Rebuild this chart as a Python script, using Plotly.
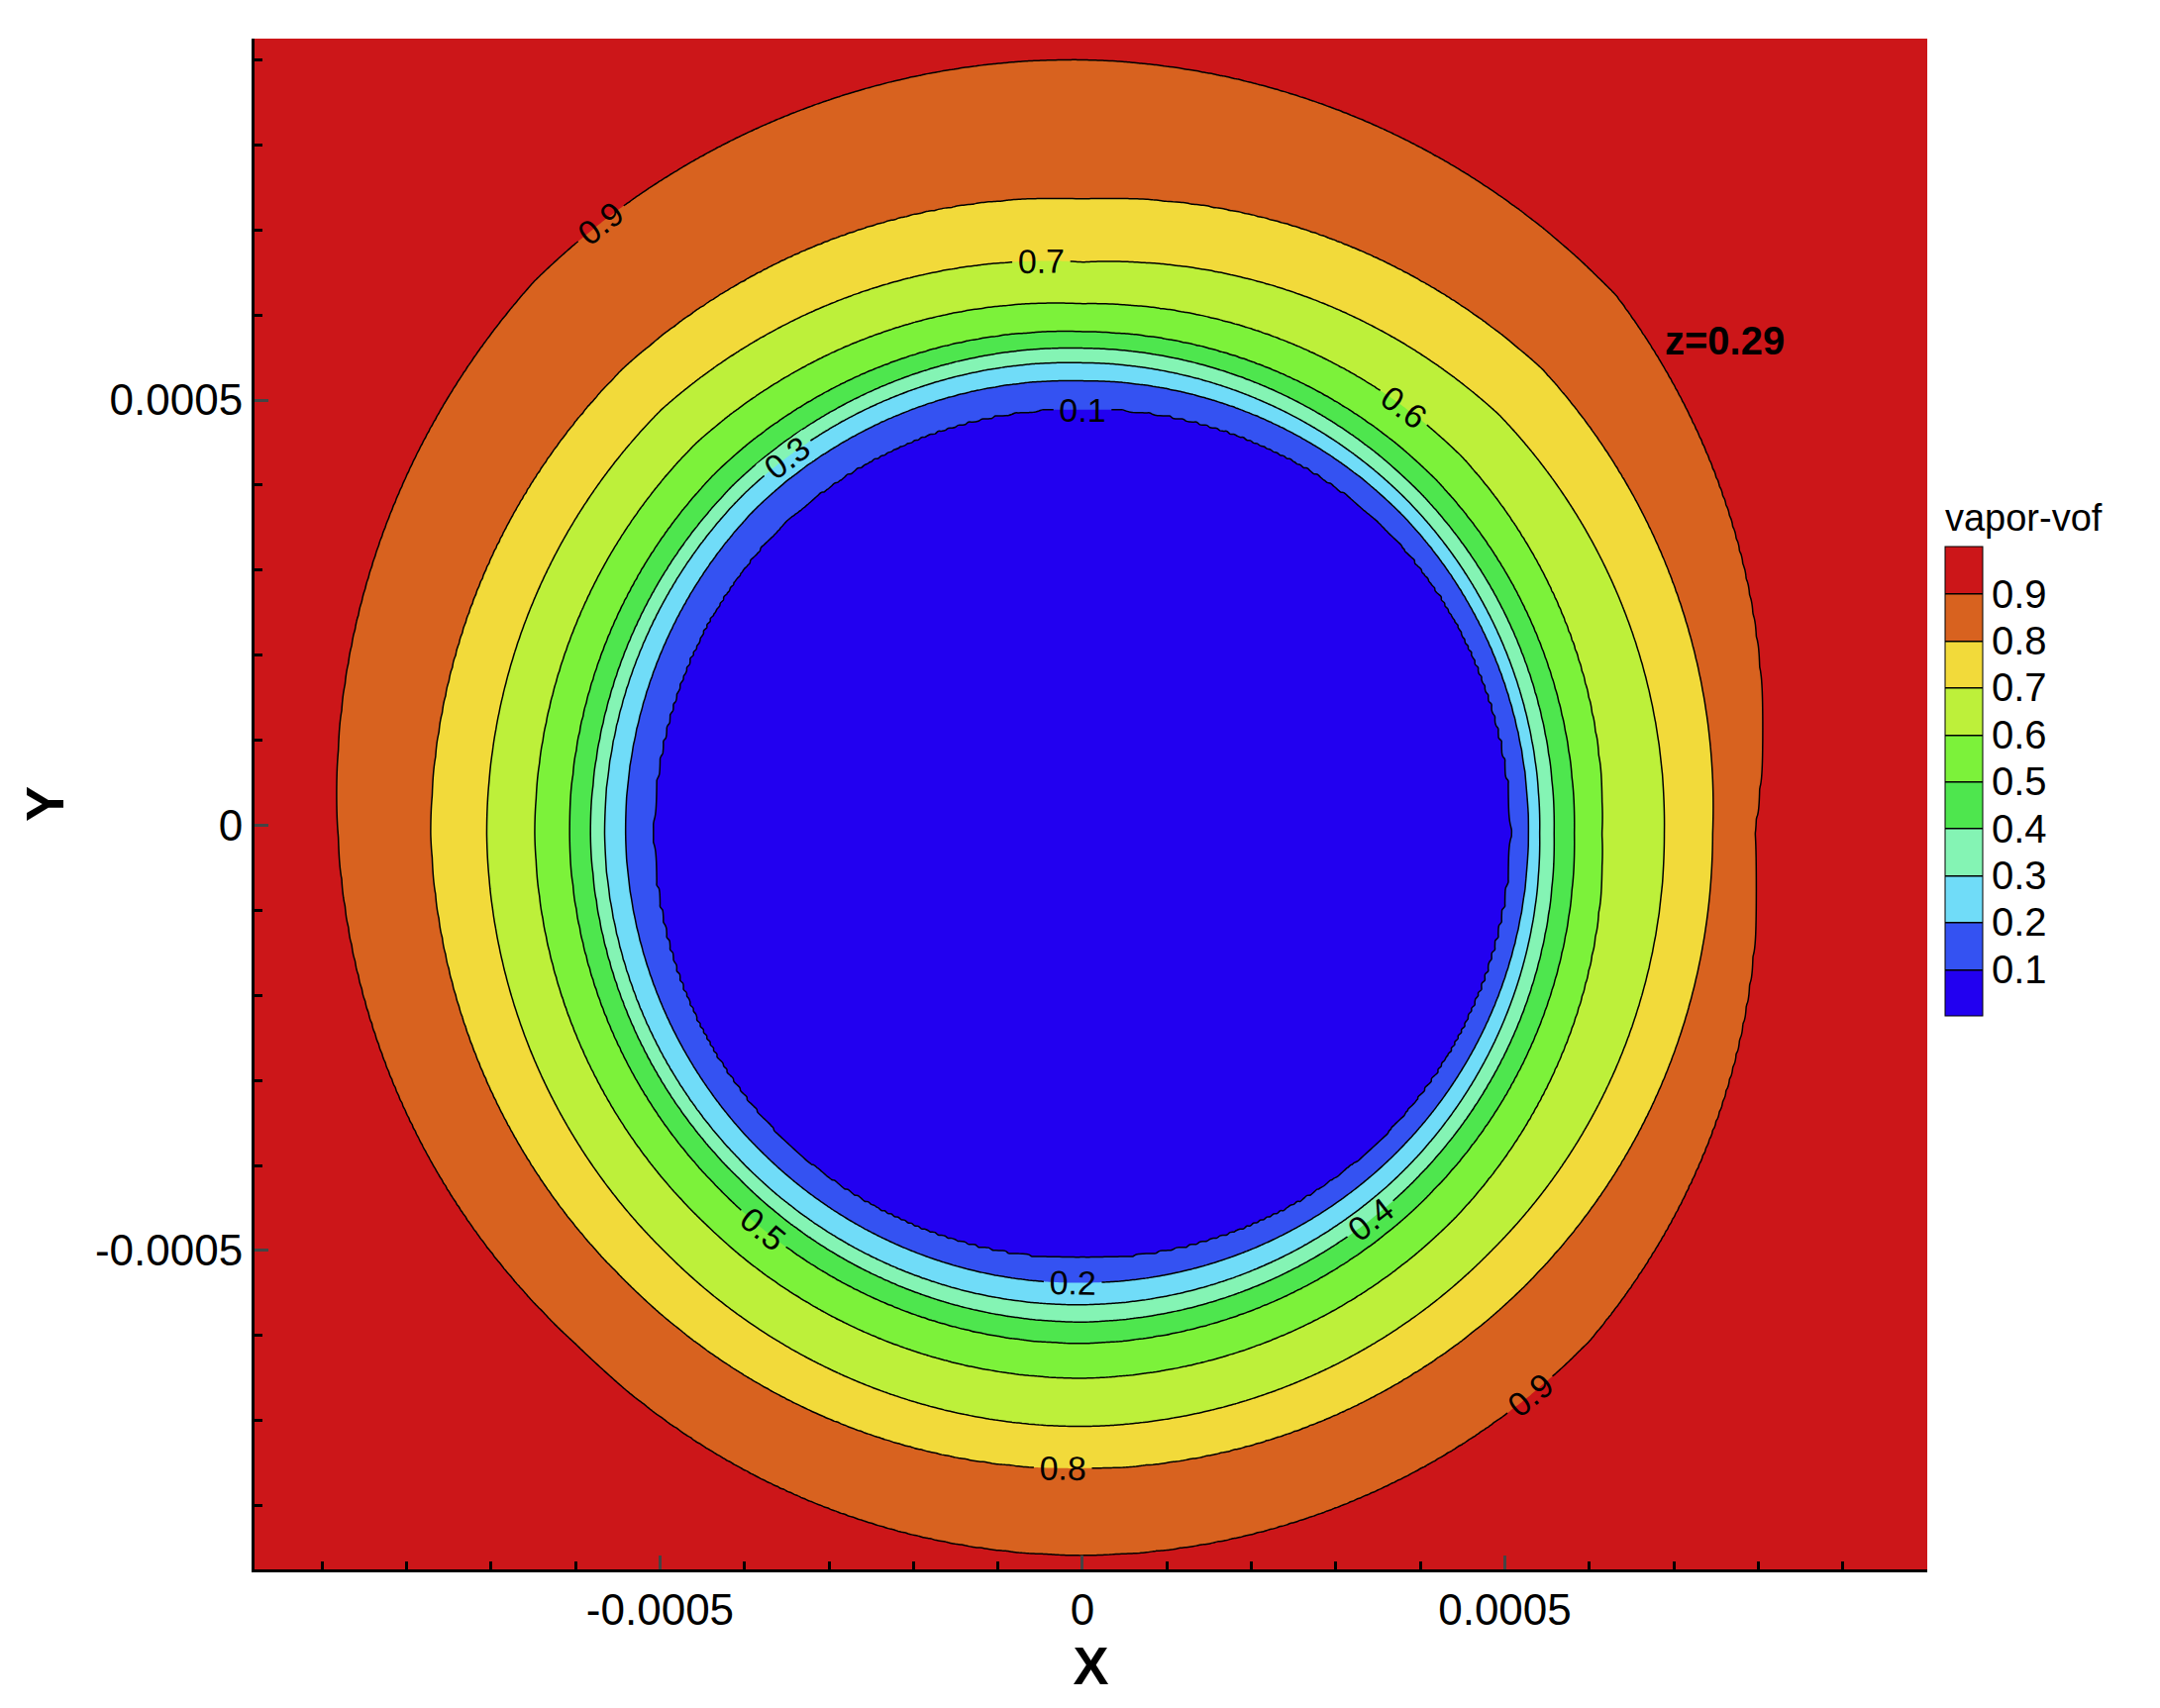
import numpy as np
import plotly.graph_objects as go

# contour radii (units of 1e-4 m) at angles 0,45,...,315 deg
angles_deg = [0, 45, 90, 135, 180, 225, 270, 315]
levels = [0.1, 0.2, 0.3, 0.4, 0.5, 0.6, 0.7, 0.8, 0.9]
r01 = [5.08, 5.08, 5.00, 5.08, 5.08, 5.05, 5.00, 5.05]
r02 = [5.28, 5.33, 5.33, 5.44, 5.41, 5.33, 5.28, 5.28]
r03 = [5.41, 5.49, 5.54, 5.66, 5.66, 5.58, 5.54, 5.49]
r04 = [5.58, 5.66, 5.71, 5.82, 5.82, 5.74, 5.74, 5.66]
r05 = [5.82, 5.90, 5.90, 6.07, 6.07, 5.99, 5.99, 5.90]
r06 = [6.15, 6.31, 6.23, 6.48, 6.48, 6.40, 6.40, 6.31]
r07 = [6.89, 6.97, 6.72, 7.05, 7.05, 6.97, 6.97, 6.89]
r08 = [7.46, 7.71, 7.46, 7.71, 7.71, 7.54, 7.46, 7.46]
r09 = [7.95, 8.94, 9.10, 9.18, 8.81, 8.48, 8.48, 8.46]
radii = [r01, r02, r03, r04, r05, r06, r07, r08, r09]
center = (0.0, -0.1)  # 1e-4 m

band_colors = ["#2200f0", "#3452f2", "#70dcf8", "#84f4b4", "#4ee64e",
               "#7cf23a", "#bdf03a", "#f2da3a", "#d8621f", "#cc1619"]

x = np.linspace(-9.8, 10.0, 500)
y = np.linspace(-8.75, 9.25, 500)
X, Y = np.meshgrid(x, y)
dx, dy = X - center[0], Y - center[1]
R = np.hypot(dx, dy)
T = np.degrees(np.arctan2(dy, dx)) % 360
a_ext = np.array(angles_deg + [360])
Rl = [np.interp(T, a_ext, np.array(r + [r[0]])) for r in radii]
Z = np.zeros_like(R)
for i in range(R.shape[0]):
    for j in range(R.shape[1]):
        rr = [0.0] + [Rl[k][i, j] for k in range(9)] + [Rl[8][i, j] + 2.0]
        Z[i, j] = np.interp(R[i, j], rr, [0.0] + levels + [1.0])

cs = []
for k, c in enumerate(band_colors):
    cs.append([k / 10, c]); cs.append([(k + 1) / 10, c])

fig = go.Figure(go.Contour(
    x=x * 1e-4, y=y * 1e-4, z=Z, zmin=0, zmax=1, colorscale=cs,
    contours=dict(start=0.1, end=0.9, size=0.1, coloring="fill", showlabels=True,
                  labelfont=dict(size=34, color="black", family="Arial")),
    line=dict(color="black", width=1.5),
    colorbar=dict(title=dict(text="vapor-vof", font=dict(size=38, family="Arial", color="black")),
                  tickvals=levels, ticktext=[f"{v:.1f}" for v in levels],
                  tickfont=dict(size=40, family="Arial", color="black"), ticks="",
                  x=1.005, xanchor="left", y=0.53, yanchor="middle",
                  len=0.35, thickness=38, outlinecolor="black", outlinewidth=1),
))
fig.add_annotation(x=0.00076, y=0.00057, text="<b>z=0.29</b>", showarrow=False,
                   font=dict(size=40, color="black", family="Arial"))
tv = [-0.0005, 0, 0.0005]
tt = ["-0.0005", "0", "0.0005"]
common = dict(ticks="inside", ticklen=14, tickwidth=3, showline=True, linewidth=3,
              linecolor="black", mirror=False, showgrid=False, zeroline=False,
              tickfont=dict(size=44, family="Arial", color="black"),
              minor=dict(ticks="inside", ticklen=8, dtick=0.0001, tickcolor="black"))
fig.update_xaxes(range=[-0.00098, 0.001], tickvals=tv, ticktext=tt,
                 title=dict(text="<b>X</b>", font=dict(size=54, family="Arial", color="black")), **common)
fig.update_yaxes(range=[-0.000875, 0.000925], tickvals=tv, ticktext=tt,
                 title=dict(text="<b>Y</b>", font=dict(size=54, family="Arial", color="black")), **common)
fig.update_layout(width=2181, height=1725, plot_bgcolor="white", paper_bgcolor="white",
                  margin=dict(l=249, r=243, t=31, b=148))
fig.write_html("out.html")
